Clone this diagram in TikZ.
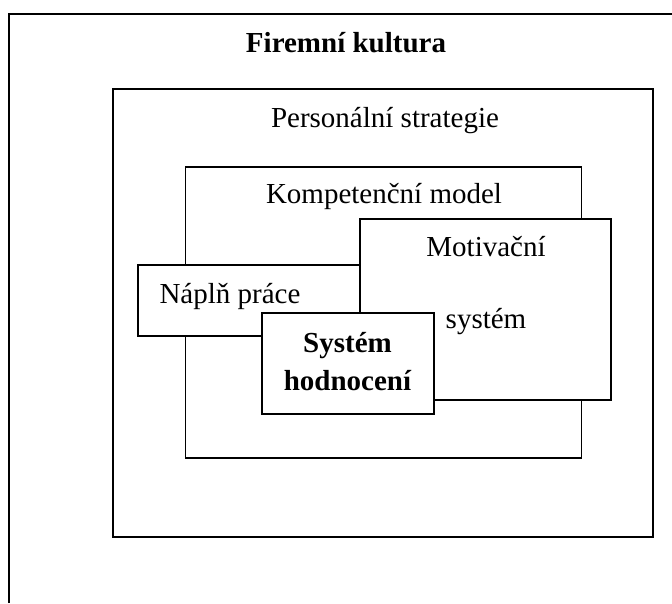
\documentclass[tikz,border=0pt]{standalone}
\usepackage{fontspec}
\setmainfont{Liberation Serif}
\usepackage{tikz}
\usetikzlibrary{positioning}

\begin{document}
\begin{tikzpicture}[x=0.5pt,y=-0.5pt,
    frame/.style={draw=black,line width=1pt,fill=white},
    boxline/.style={draw=black,line width=0.8pt,fill=white},
    lbl/.style={anchor=base,inner sep=0pt,font=\fontsize{14.5}{17}\selectfont},
    blbl/.style={lbl,font=\fontsize{14.5}{17}\selectfont\bfseries}]
  \useasboundingbox (0,0) rectangle (672,603);
  % outer frame (open at right and bottom)
  \draw[line width=1pt] (9,603) -- (9,14.5) -- (672,14.5);
  \node[blbl] (kultura) at (346,53) {Firemní kultura};
  % personal strategy
  \path[frame] (112.5,89.5) rectangle (653,537);
  \node[lbl] (strategie) at (385,128) {Personální strategie};
  % competence model
  \path[boxline] (185.5,167) rectangle (581.5,458);
  \node[lbl] (model) at (384,204) {Kompetenční model};
  % job description
  \path[boxline] (138,265) rectangle (420,336);
  \node[lbl] (napln) at (230,303) {Náplň práce};
  % motivation system
  \path[boxline] (360,219) rectangle (611,400);
  \node[lbl] (motiv) at (486,257) {Motivační};
  \node[lbl] (motivsys) at (486,328) {systém};
  % evaluation system
  \path[frame] (261.5,313) rectangle (434,414);
  \node[blbl] (hodn1) at (347.5,352) {Systém};
  \node[blbl] (hodn2) at (347.5,390) {hodnocení};
\end{tikzpicture}
\end{document}
